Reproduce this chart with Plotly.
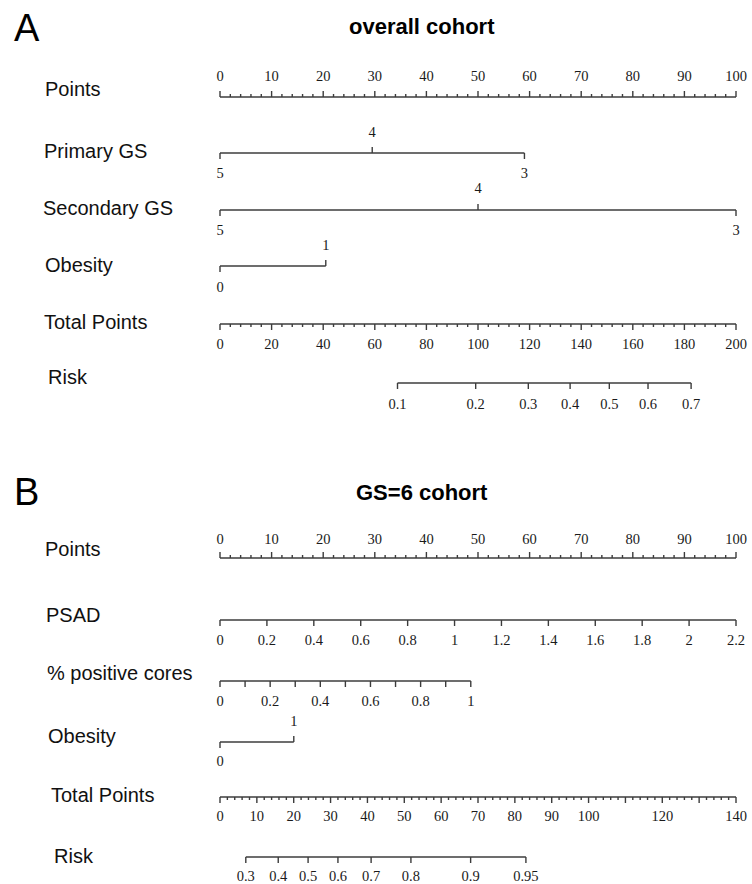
import plotly.graph_objects as go

# ---------------- data ----------------
# Panel A : overall cohort
points_ticks = list(range(0, 101, 10))
points_minor_step = 2

primary_gs_levels = ["5", "4", "3"]
primary_gs_points = [0.0, 29.5, 59.0]

secondary_gs_levels = ["5", "4", "3"]
secondary_gs_points = [0.0, 50.0, 100.0]

obesity_a_levels = ["0", "1"]
obesity_a_points = [0.0, 20.5]

total_a_max = 200
total_a_ticks = list(range(0, 201, 20))
total_a_minor_step = 4

risk_a_labels = ["0.1", "0.2", "0.3", "0.4", "0.5", "0.6", "0.7"]
risk_a_total_points = [68.8, 99.1, 119.5, 135.7, 150.9, 165.9, 182.6]

# Panel B : GS=6 cohort
psad_ticks = [0, 0.2, 0.4, 0.6, 0.8, 1, 1.2, 1.4, 1.6, 1.8, 2, 2.2]
psad_points_at_max = 100.0          # PSAD 2.2 -> 100 points

cores_ticks = [0, 0.1, 0.2, 0.3, 0.4, 0.5, 0.6, 0.7, 0.8, 0.9, 1]
cores_tick_labels = ["0", "", "0.2", "", "0.4", "", "0.6", "", "0.8", "", "1"]
cores_points_at_max = 48.6          # 100% positive cores -> 48.6 points

obesity_b_levels = ["0", "1"]
obesity_b_points = [0.0, 14.3]

total_b_max = 140
total_b_ticks = list(range(0, 141, 10))
total_b_tick_labels = ["0", "10", "20", "30", "40", "50", "60", "70", "80", "90",
                       "100", "", "120", "", "140"]
total_b_minor_step = 2

risk_b_labels = ["0.3", "0.4", "0.5", "0.6", "0.7", "0.8", "0.9", "0.95"]
risk_b_total_points = [7.0, 15.8, 23.9, 32.0, 41.0, 51.8, 68.0, 83.0]

# ---------------- layout constants ----------------
W, H = 752, 884
X0_PX, X100_PX = 220, 736
PX_PER_PT = (X100_PX - X0_PX) / 100.0
LINE_COLOR = "#3c3c3c"
LINE_W = 1.4
NUM_FONT = dict(family="Liberation Serif, Times New Roman, serif", size=14.5, color="#1a1a1a")
LAB_FONT = dict(family="Liberation Sans, Arial, sans-serif", size=20, color="#111111")
MAJ, MIN = 6, 3

fig = go.Figure()


def add_rule(xs, y, ups, lens):
    """axis line through xs plus a tick at each x (up=True -> tick goes up)."""
    lx, ly = [min(xs), max(xs), None], [y, y, None]
    for x, up, ln in zip(xs, ups, lens):
        lx += [x, x, None]
        ly += [y, y - ln if up else y + ln, None]
    fig.add_trace(go.Scatter(x=lx, y=ly, mode="lines", hoverinfo="skip",
                             line=dict(color=LINE_COLOR, width=LINE_W), showlegend=False))


def add_nums(xs, texts, y):
    fig.add_trace(go.Scatter(x=xs, y=[y] * len(xs), text=texts, mode="text",
                             textposition="middle center", textfont=NUM_FONT,
                             hoverinfo="skip", showlegend=False))


def minor_ticks(lo, hi, step, major):
    vals = []
    v = lo
    while v <= hi + 1e-9:
        if all(abs(v - m) > 1e-9 for m in major):
            vals.append(v)
        v += step
    return vals


def points_axis(y_line, y_num):
    mn = minor_ticks(0, 100, points_minor_step, points_ticks)
    xs = points_ticks + mn
    add_rule(xs, y_line, [True] * len(xs), [MAJ] * len(points_ticks) + [MIN] * len(mn))
    add_nums(points_ticks, [str(v) for v in points_ticks], y_num)


def categorical(levels, pts, y_line, y_above, y_below):
    # first and last labels below, inner labels above (as in the reference)
    ups = [0 < i < len(levels) - 1 or (len(levels) == 2 and i == 1) for i in range(len(levels))]
    add_rule(pts, y_line, ups, [MAJ] * len(pts))
    for x, t, up in zip(pts, levels, ups):
        add_nums([x], [t], y_above if up else y_below)


def total_axis(ticks, labels, max_total, minor_step, y_line, y_num):
    scale = 100.0 / max_total
    mn = minor_ticks(0, max_total, minor_step, ticks)
    xs = [t * scale for t in ticks] + [m * scale for m in mn]
    add_rule(xs, y_line, [False] * len(xs), [MAJ] * len(ticks) + [MIN] * len(mn))
    add_nums([t * scale for t in ticks], labels, y_num)


def risk_axis(labels, totals, max_total, y_line, y_num):
    xs = [t * 100.0 / max_total for t in totals]
    add_rule(xs, y_line, [False] * len(xs), [MAJ] * len(xs))
    add_nums(xs, labels, y_num)


# ---- Panel A ----
points_axis(97, 77)
categorical(primary_gs_levels, primary_gs_points, 153, 133, 174)
categorical(secondary_gs_levels, secondary_gs_points, 210, 189, 231)
categorical(obesity_a_levels, obesity_a_points, 266, 246, 288)
total_axis(total_a_ticks, [str(t) for t in total_a_ticks], total_a_max, total_a_minor_step, 324, 345)
risk_axis(risk_a_labels, risk_a_total_points, total_a_max, 383, 405)

# ---- Panel B ----
points_axis(558, 540)
psad_x = [v / psad_ticks[-1] * psad_points_at_max for v in psad_ticks]
add_rule(psad_x, 620, [False] * len(psad_x), [MAJ] * len(psad_x))
add_nums(psad_x, [f"{v:g}" for v in psad_ticks], 641)
cores_x = [v / cores_ticks[-1] * cores_points_at_max for v in cores_ticks]
add_rule(cores_x, 681, [False] * len(cores_x), [MAJ] * len(cores_x))
add_nums(cores_x, cores_tick_labels, 702)
categorical(obesity_b_levels, obesity_b_points, 742, 722, 762)
total_axis(total_b_ticks, total_b_tick_labels, total_b_max, total_b_minor_step, 797, 817)
risk_axis(risk_b_labels, risk_b_total_points, total_b_max, 857, 877)

# ---- text labels ----
row_labels = [
    ("Points", 42.7, 89), ("Primary GS", 41.7, 150.5), ("Secondary GS", 40.7, 207.5),
    ("Obesity", 43.3, 264.5), ("Total Points", 42, 321.5), ("Risk", 45.7, 377),
    ("Points", 43.3, 549), ("PSAD", 44.3, 615), ("% positive cores", 45, 673),
    ("Obesity", 46, 736), ("Total Points", 48.7, 795), ("Risk", 52, 856),
]
ann = []
for txt, xpx, ypx in row_labels:
    ann.append(dict(text=txt, x=xpx / W, y=1 - ypx / H, xref="paper", yref="paper",
                    xanchor="left", yanchor="middle", showarrow=False, font=LAB_FONT))
for txt, ypx in (("A", 28), ("B", 492)):
    ann.append(dict(text=txt, x=12 / W, y=1 - ypx / H, xref="paper", yref="paper",
                    xanchor="left", yanchor="middle", showarrow=False,
                    font=dict(family="Liberation Sans, Arial, sans-serif", size=38, color="#000")))
for txt, ypx in (("<b>overall cohort</b>", 26), ("<b>GS=6 cohort</b>", 492)):
    ann.append(dict(text=txt, x=422 / W, y=1 - ypx / H, xref="paper", yref="paper",
                    xanchor="center", yanchor="middle", showarrow=False,
                    font=dict(family="Liberation Sans, Arial, sans-serif", size=22, color="#000")))

fig.update_layout(
    width=W, height=H, margin=dict(l=0, r=0, t=0, b=0),
    paper_bgcolor="white", plot_bgcolor="white",
    xaxis=dict(range=[-X0_PX / PX_PER_PT, (W - X0_PX) / PX_PER_PT], visible=False, fixedrange=True),
    yaxis=dict(range=[H, 0], visible=False, fixedrange=True),
    annotations=ann, showlegend=False,
)

fig.write_html("out.html", config={"displayModeBar": False},
               post_script="document.body.style.margin='0px';document.body.style.overflow='hidden';")
